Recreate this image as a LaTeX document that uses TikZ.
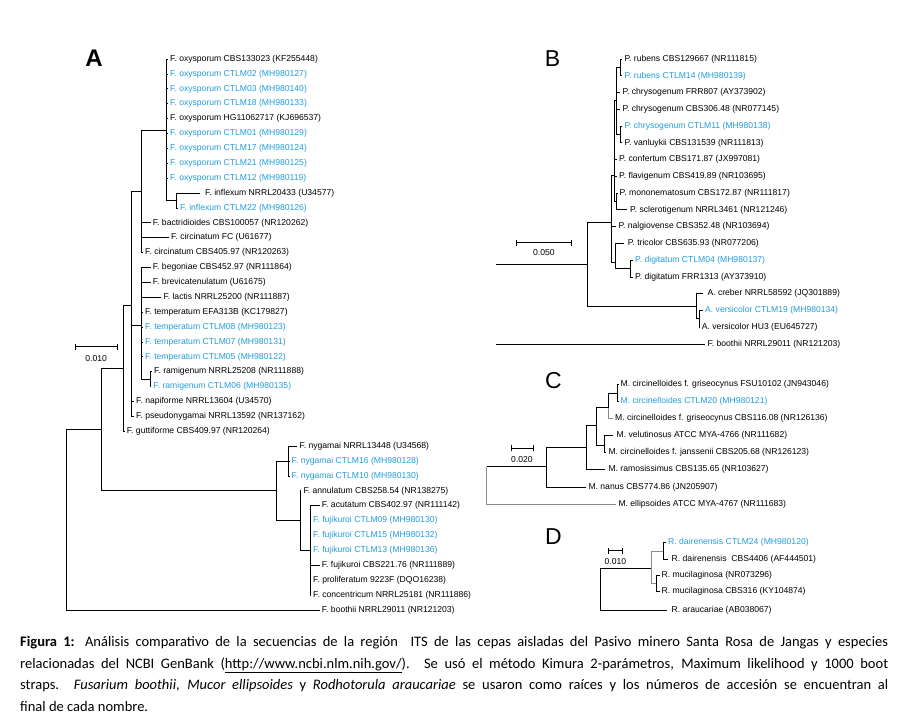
\documentclass[tikz,border=0pt]{standalone}
\usepackage{fontspec}
\setmainfont{Liberation Sans}
\newfontfamily\capfont{Carlito}
\usetikzlibrary{arrows.meta,positioning,calc}
\definecolor{isoblue}{RGB}{35,158,218}
\newcommand{\tipsize}{\fontsize{8.6}{10}\selectfont}

\begin{document}
\begin{tikzpicture}[
    x=1pt, y=-1pt,
    leaf/.style={anchor=west, inner xsep=2pt, inner ysep=0pt, font=\tipsize},
    iso/.style={leaf, text=isoblue},
    br/.style={line width=0.8pt, black},
    gbr/.style={line width=0.8pt, black!45},
    panel/.style={inner sep=0pt, font=\fontsize{23}{26}\selectfont},
    sbar/.style={line width=0.8pt, {Bar[width=6pt]}-{Bar[width=6pt]}},
    sval/.style={inner sep=0pt, font=\tipsize},
    capline/.style={anchor=base west, inner sep=0pt, font=\capfont\fontsize{14.5}{17}\selectfont}
]
\fill[white] (0,0) rectangle (923,720);
\useasboundingbox (0,0) rectangle (923,720);

% ---------------- A: Fusarium ----------------
\node[panel, font=\fontsize{24}{28}\selectfont\bfseries] (labA) at (94,58.5) {A};

\coordinate (aroot) at (66.7,429.3);
\coordinate (a1) at (101.7,429.3);
\coordinate (a2) at (123.3,368);
\coordinate (a3) at (276.7,490.8);
\coordinate (a4) at (131.7,305);
\coordinate (a5) at (141.7,191.7);
\coordinate (a6) at (141.7,325);
\coordinate (a7) at (166.7,130);
\coordinate (a8) at (176.7,200.5);
\coordinate (a9) at (150,379.2);
\coordinate (a10) at (288.3,461);
\coordinate (a11) at (300,520.6);
\coordinate (a12) at (310,550.4);

\node[leaf] (ox1) at (168,59.0) {F. oxysporum CBS133023 (KF255448)};
\node[iso] (ox2) at (168,73.9) {F. oxysporum CTLM02 (MH980127)};
\node[iso] (ox3) at (168,88.8) {F. oxysporum CTLM03 (MH980140)};
\node[iso] (ox4) at (168,103.7) {F. oxysporum CTLM18 (MH980133)};
\node[leaf] (ox5) at (168,118.6) {F. oxysporum HG11062717 (KJ696537)};
\node[iso] (ox6) at (168,133.5) {F. oxysporum CTLM01 (MH980129)};
\node[iso] (ox7) at (168,148.3) {F. oxysporum CTLM17 (MH980124)};
\node[iso] (ox8) at (168,163.2) {F. oxysporum CTLM21 (MH980125)};
\node[iso] (ox9) at (168,178.1) {F. oxysporum CTLM12 (MH980119)};
\node[leaf] (inf1) at (203,193.0) {F. inflexum NRRL20433 (U34577)};
\node[iso] (inf2) at (178,207.9) {F. inflexum CTLM22 (MH980126)};
\node[leaf] (bac) at (150.7,222.8) {F. bactridioides CBS100057 (NR120262)};
\node[leaf] (cirFC) at (169,237.7) {F. circinatum FC (U61677)};
\node[leaf] (cirCBS) at (143,252.6) {F. circinatum CBS405.97 (NR120263)};
\node[leaf] (beg) at (150.7,267.5) {F. begoniae CBS452.97 (NR111864)};
\node[leaf] (bre) at (150.7,282.4) {F. brevicatenulatum (U61675)};
\node[leaf] (lac) at (161.3,297.2) {F. lactis NRRL25200 (NR111887)};
\node[leaf] (tem1) at (143,312.1) {F. temperatum EFA313B (KC179827)};
\node[iso] (tem2) at (143,327.0) {F. temperatum CTLM08 (MH980123)};
\node[iso] (tem3) at (143,341.9) {F. temperatum CTLM07 (MH980131)};
\node[iso] (tem4) at (143,356.8) {F. temperatum CTLM05 (MH980122)};
\node[leaf] (ram1) at (152,371.7) {F. ramigenum NRRL25208 (NR111888)};
\node[iso] (ram2) at (151.3,386.6) {F. ramigenum CTLM06 (MH980135)};
\node[leaf] (nap) at (134,401.5) {F. napiforme NRRL13604 (U34570)};
\node[leaf] (pse) at (134,416.4) {F. pseudonygamai NRRL13592 (NR137162)};
\node[leaf] (gut) at (124.7,431.3) {F. guttiforme CBS409.97 (NR120264)};
\node[leaf] (nyg1) at (297.3,446.1) {F. nygamai NRRL13448 (U34568)};
\node[iso] (nyg2) at (289.5,461.0) {F. nygamai CTLM16 (MH980128)};
\node[iso] (nyg3) at (289.5,475.9) {F. nygamai CTLM10 (MH980130)};
\node[leaf] (ann) at (301.3,490.8) {F. annulatum CBS258.54 (NR138275)};
\node[leaf] (acu) at (319.7,505.7) {F. acutatum CBS402.97 (NR111142)};
\node[iso] (fuj1) at (311,520.6) {F. fujikuroi CTLM09 (MH980130)};
\node[iso] (fuj2) at (311,535.5) {F. fujikuroi CTLM15 (MH980132)};
\node[iso] (fuj3) at (311,550.4) {F. fujikuroi CTLM13 (MH980136)};
\node[leaf] (fuj4) at (319.7,565.3) {F. fujikuroi CBS221.76 (NR111889)};
\node[leaf] (pro) at (311,580.2) {F. proliferatum 9223F (DQO16238)};
\node[leaf] (con) at (311,595.0) {F. concentricum NRRL25181 (NR111886)};
\node[leaf] (boA) at (319.7,610.0) {F. boothii NRRL29011 (NR121203)};

\draw[br] (aroot) -- (a1);
\draw[br] (aroot) |- (boA.west);
\draw[br] (a1) |- (a2);
\draw[br] (a1) |- (a3);
\draw[br] (a2) |- (a4);
\draw[br] (a2) |- (gut.west);
\draw[br] (a4) |- (a5);
\draw[br] (a4) |- (a6);
\draw[br] (a4) |- (nap.west);
\draw[br] (a4) |- (pse.west);
\draw[br] (a5) |- (a7);
\draw[br] (a5) |- (bac.west);
\draw[br] (a5) |- (cirFC.west);
\draw[br] (a5) |- (cirCBS.west);
\draw[br] (a7) |- (ox1.west);
\draw[br] (a7) |- (ox2.west);
\draw[br] (a7) |- (ox3.west);
\draw[br] (a7) |- (ox4.west);
\draw[br] (a7) |- (ox5.west);
\draw[br] (a7) |- (ox6.west);
\draw[br] (a7) |- (ox7.west);
\draw[br] (a7) |- (ox8.west);
\draw[br] (a7) |- (ox9.west);
\draw[br] (a7) |- (a8);
\draw[br] (a8) |- ([xshift=-3pt]inf1.west);
\draw[br] (a8) |- (inf2.west);
\draw[br] (a6) |- (beg.west);
\draw[br] (a6) |- (bre.west);
\draw[br] (a6) |- (lac.west);
\draw[br] (a6) |- (tem1.west);
\draw[br] (a6) |- (tem2.west);
\draw[br] (a6) |- (tem3.west);
\draw[br] (a6) |- (tem4.west);
\draw[br] (a6) |- (a9);
\draw[br] (a9) |- (ram1.west);
\draw[br] (a9) |- (ram2.west);
\draw[br] (a3) |- (a10);
\draw[br] (a3) |- (a11);
\draw[br] (a10) |- (nyg1.west);
\draw[br] (a10) |- (nyg2.west);
\draw[br] (a10) |- (nyg3.west);
\draw[br] (a11) |- (ann.west);
\draw[br] (a11) |- (a12);
\draw[br] (a12) |- (acu.west);
\draw[br] (a12) |- (fuj1.west);
\draw[br] (a12) |- (fuj2.west);
\draw[br] (a12) |- (fuj3.west);
\draw[br] (a12) |- (fuj4.west);
\draw[br] (a12) |- (pro.west);
\draw[br] (a12) |- (con.west);

% scale A
\coordinate (sA1) at (75,346.7);
\coordinate (sA2) at (117.3,346.7);
\draw[sbar] (sA1) -- (sA2);
\node[sval, below=8.5pt of {$(sA1)!0.5!(sA2)$}] (sAt) {0.010};

% ---------------- B: Penicillium / Aspergillus ----------------
\node[panel] (labB) at (552.5,58.5) {B};

\coordinate (bstart) at (496,264.3);
\coordinate (bstart2) at (496,343.9);
\coordinate (b1) at (587.3,264.3);
\coordinate (b2) at (611.5,222.7);
\coordinate (b3) at (696.7,306.7);
\coordinate (bX) at (614,175);
\coordinate (bR) at (616.7,100);
\coordinate (bRu) at (620.7,67.4);
\coordinate (bCh) at (620.7,134.4);
\coordinate (bM) at (616.7,201.5);
\coordinate (bT) at (615,262);
\coordinate (bD) at (630,268.5);
\coordinate (bA) at (699.3,318.8);

\node[leaf] (rub1) at (622.3,59.0) {P. rubens CBS129667 (NR111815)};
\node[iso] (rub2) at (622.3,75.8) {P. rubens CTLM14 (MH980139)};
\node[leaf] (chr1) at (620.3,92.5) {P. chrysogenum FRR807 (AY373902)};
\node[leaf] (chr2) at (620.3,109.3) {P. chrysogenum CBS306.48 (NR077145)};
\node[iso] (chr3) at (622.3,126.0) {P. chrysogenum CTLM11 (MH980138)};
\node[leaf] (van) at (622.3,142.8) {P. vanluykii CBS131539 (NR111813)};
\node[leaf] (cnf) at (617,159.6) {P. confertum CBS171.87 (JX997081)};
\node[leaf] (fla) at (617,176.3) {P. flavigenum CBS419.89 (NR103695)};
\node[leaf] (mon) at (617.5,193.1) {P. mononematosum CBS172.87 (NR111817)};
\node[leaf] (scl) at (628,209.8) {P. sclerotigenum NRRL3461 (NR121246)};
\node[leaf] (nal) at (616.3,226.6) {P. nalgiovense CBS352.48 (NR103694)};
\node[leaf] (tri) at (625.7,243.4) {P. tricolor CBS635.93 (NR077206)};
\node[iso] (dig1) at (633,260.1) {P. digitatum CTLM04 (MH980137)};
\node[leaf] (dig2) at (633,276.9) {P. digitatum FRR1313 (AY373910)};
\node[leaf] (cre) at (705.3,293.6) {A. creber NRRL58592 (JQ301889)};
\node[iso] (ver1) at (703,310.4) {A. versicolor CTLM19 (MH980134)};
\node[leaf] (ver2) at (699.7,327.2) {A. versicolor HU3 (EU645727)};
\node[leaf] (boB) at (705.3,343.9) {F. boothii NRRL29011 (NR121203)};

\draw[br] (bstart) -- (b1);
\draw[br] (bstart2) -- (boB.west);
\draw[br] (b1) |- (b2);
\draw[br] (b1) |- (b3);
\draw[br] (b2) |- (bX);
\draw[br] (b2) |- (nal.west);
\draw[br] (b2) |- (bT);
\draw[br] (bX) |- (bR);
\draw[br] (bX) |- (cnf.west);
\draw[br] (bX) |- (fla.west);
\draw[br] (bX) |- (bM);
\draw[br] (bR) |- (bRu);
\draw[br] (bR) |- (chr1.west);
\draw[br] (bR) |- (chr2.west);
\draw[br] (bR) |- (bCh);
\draw[br] (bRu) |- (rub1.west);
\draw[br] (bRu) |- (rub2.west);
\draw[br] (bCh) |- (chr3.west);
\draw[br] (bCh) |- (van.west);
\draw[br] (bM) |- (mon.west);
\draw[br] (bM) |- ([xshift=-1.5pt]scl.west);
\draw[br] (bT) |- ([xshift=-1.5pt]tri.west);
\draw[br] (bT) |- (bD);
\draw[br] (bD) |- (dig1.west);
\draw[br] (bD) |- (dig2.west);
\draw[br] (b3) |- ([xshift=-2pt]cre.west);
\draw[br] (b3) |- (bA);
\draw[br] (bA) |- (ver1.west);
\draw[br] (bA) |- (ver2.west);

% scale B
\coordinate (sB1) at (516,242.7);
\coordinate (sB2) at (571.7,242.7);
\draw[sbar] (sB1) -- (sB2);
\node[sval, below=6.5pt of {$(sB1)!0.5!(sB2)$}] (sBt) {0.050};

% ---------------- C: Mucor ----------------
\node[panel] (labC) at (553.5,380.5) {C};

\coordinate (croot) at (486.7,466.7);
\coordinate (c1) at (546.7,466.7);
\coordinate (c2) at (586,447.3);
\coordinate (c3) at (596,425.7);
\coordinate (c4) at (608.3,407.7);
\coordinate (c5) at (604,445);
\coordinate (c6) at (617.3,393.3);

\node[leaf] (cir1) at (618.5,384.0) {M. circinelloides f. griseocynus FSU10102 (JN943046)};
\node[iso] (cir2) at (618.5,401.1) {M. circinelloides CTLM20 (MH980121)};
\node[leaf] (cir3) at (613,418.3) {M. circinelloides f. griseocynus CBS116.08 (NR126136)};
\node[leaf] (vel) at (614.5,435.4) {M. velutinosus ATCC MYA-4766 (NR111682)};
\node[leaf] (jan) at (606.3,452.6) {M. circinelloides f. janssenii CBS205.68 (NR126123)};
\node[leaf] (ramo) at (606.3,469.7) {M. ramosissimus CBS135.65 (NR103627)};
\node[leaf] (nan) at (586.3,486.9) {M. nanus CBS774.86 (JN205907)};
\node[leaf] (ell) at (616.3,504.0) {M. ellipsoides ATCC MYA-4767 (NR111683)};

\draw[br] (croot) -- (c1);
\draw[gbr] (croot) |- (ell.west);
\draw[br] (c1) |- (c2);
\draw[br] (c1) |- (nan.west);
\draw[br] (c2) |- (c3);
\draw[br] (c2) |- ([xshift=-1pt]ramo.west);
\draw[br] (c3) |- (c4);
\draw[br] (c3) |- (c5);
\draw[br] (c4) |- (c6);
\draw[gbr] (c4) |- (cir3.west);
\draw[br] (c6) |- (cir1.west);
\draw[br] (c6) |- (cir2.west);
\draw[br] (c5) |- ([xshift=-1.5pt]vel.west);
\draw[br] (c5) |- (jan.west);

% scale C
\coordinate (sC1) at (510.7,448.3);
\coordinate (sC2) at (533.3,448.3);
\draw[sbar] (sC1) -- (sC2);
\node[sval, below=7.5pt of {$(sC1)!0.5!(sC2)$}] (sCt) {0.020};

% ---------------- D: Rhodotorula ----------------
\node[panel] (labD) at (553.5,536.5) {D};

\coordinate (droot) at (600.7,568.3);
\coordinate (d1) at (651.7,568.3);
\coordinate (d2) at (663.3,551.7);
\coordinate (d3) at (656.7,583.3);

\node[iso] (dai1) at (666,542.7) {R. dairenensis CTLM24 (MH980120)};
\node[leaf] (dai2) at (669.5,559.3) {R. dairenensis\ \ CBS4406 (AF444501)};
\node[leaf] (muc1) at (659.5,575.0) {R. mucilaginosa (NR073296)};
\node[leaf] (muc2) at (659.5,591.7) {R. mucilaginosa CBS316 (KY104874)};
\node[leaf] (ara) at (669.5,610.0) {R. araucariae (AB038067)};

\draw[br] (droot) -- (d1);
\draw[br] (droot) |- ([xshift=-3pt]ara.west);
\draw[gbr] (d1) |- (d2);
\draw[gbr] (d1) |- (d3);
\draw[br] (d2) |- (dai1.west);
\draw[br] (d2) |- ([xshift=-1.5pt]dai2.west);
\draw[br] (d3) |- (muc1.west);
\draw[br] (d3) |- (muc2.west);

% scale D
\coordinate (sD1) at (608.3,550.7);
\coordinate (sD2) at (622.7,550.7);
\draw[sbar] (sD1) -- (sD2);
\node[sval, below=7.5pt of {$(sD1)!0.5!(sD2)$}] (sDt) {0.010};

% ---------------- caption ----------------
\node[capline] (cap1) at (20,646.5) {\makebox[868pt][s]{\textbf{Figura 1:} Análisis comparativo de la secuencias de la región\ \ ITS de las cepas aisladas del Pasivo minero Santa Rosa de Jangas y especies}};
\node[capline] (cap2) at (20,668) {\makebox[868pt][s]{relacionadas del NCBI GenBank (\underline{http://www.ncbi.nlm.nih.gov/}). Se usó el método Kimura 2-parámetros, Maximum likelihood y 1000 boot}};
\node[capline] (cap3) at (20,689.5) {\makebox[868pt][s]{straps. \textit{Fusarium boothii}, \textit{Mucor ellipsoides} y \textit{Rodhotorula araucariae} se usaron como raíces y los números de accesión se encuentran al}};
\node[capline] (cap4) at (20,711) {final de cada nombre.};

\end{tikzpicture}
\end{document}
